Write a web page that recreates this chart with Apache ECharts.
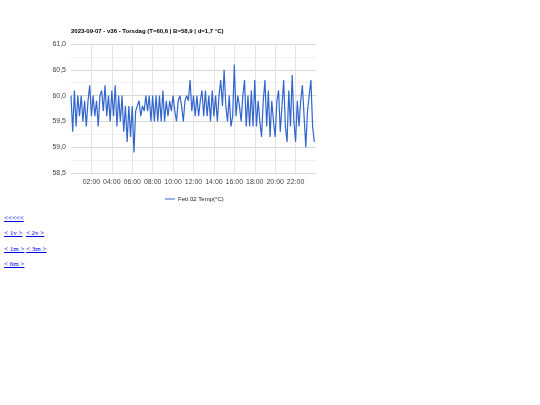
<!DOCTYPE html>
<html>
<head>
<meta charset="utf-8">
<script src="https://cdn.jsdelivr.net/npm/echarts@6/dist/echarts.min.js"></script>
<style>
html,body{margin:0;padding:0;background:#fff;}
#chart{position:absolute;left:0;top:0;width:540px;height:210px;}
#links{position:absolute;left:4px;top:211px;font-family:"Liberation Serif","Times New Roman",serif;font-size:7px;line-height:15.4px;}
#links a{color:#0000ee;text-decoration:underline;}
</style>
</head>
<body>
<div id="chart"></div>
<div id="links">
<div><a href="#">&lt;&lt;&lt;&lt;&lt;</a></div>
<div><a href="#">&lt; 1v &gt;</a> &nbsp;<a href="#">&lt; 2v &gt;</a></div>
<div><a href="#">&lt; 1m &gt;</a> <a href="#">&lt; 3m &gt;</a></div>
<div><a href="#">&lt; 6m &gt;</a></div>
</div>
<script>
const titleText = "2023-09-07 - v36 - Torsdag (T=60,6 | B=58,9 | d=1,7 °C)";
const seriesName = "Fett 02 Temp(°C)";
const yTicks = [58.5, 59.0, 59.5, 60.0, 60.5, 61.0];
const xTickHours = [2, 4, 6, 8, 10, 12, 14, 16, 18, 20, 22];
// temperatures, one reading every 10 minutes from 00:00
const tempsMorning = [
60.0,59.3,60.1,59.4,60.0,59.6,60.0,59.5,59.9,59.4,
59.9,60.2,59.6,60.0,59.6,59.9,59.4,60.0,60.1,59.7,
60.2,59.6,60.0,59.5,60.1,59.6,60.2,59.4,60.0,59.5,
60.0,59.3,59.8,59.1,59.8,59.2,59.8,58.9,59.7,59.8,
59.9,59.6,59.8,59.7,60.0,59.7,60.0,59.5,60.0,59.5,
60.0,59.5,60.0,59.5,60.1,59.5,59.9,59.6,59.9,59.7,
60.0,59.7,59.5,59.9,60.0,59.8,59.5,59.9,60.0
];
const tempsAfternoon = [
59.9,60.3,59.7,60.0,59.6,60.0,59.6,59.9,60.1,59.6,
60.1,59.6,60.0,59.5,60.1,59.6,60.0,59.5,60.0,60.3,
59.8,60.5,59.8,59.5,60.0,59.4,59.6,60.6,59.6,60.0,
59.8,59.5,60.0,60.3,59.4,60.0,59.4,60.1,59.4,
60.3,59.4,59.9,59.5,59.2,59.9,60.3,59.4,60.1,59.2,
59.9,59.5,59.2,59.9,60.1,59.3,59.8,60.3,59.4,59.1,
60.1,59.4,60.4,59.5,59.1,59.9,59.4,59.9,60.2,59.6,
59.0,59.7,60.0,60.3,59.4,59.1
];
const temps = tempsMorning.concat(tempsAfternoon);
const stepMinutes = 10;
const hours = temps.map((_, i) => i * stepMinutes / 60);

const chart = echarts.init(document.getElementById('chart'), null, {renderer: 'canvas'});
const font = 'Arial, "Liberation Sans", sans-serif';
chart.setOption({
  animation: false,
  title: {
    text: titleText, left: 71, top: 28, padding: 0,
    textStyle: {fontFamily: font, fontSize: 6, fontWeight: 'bold', color: '#000'}
  },
  grid: {left: 71, top: 44, width: 245, height: 129, containLabel: false},
  legend: {
    data: [seriesName], left: 165, top: 196, padding: 0,
    itemWidth: 10, itemHeight: 1, itemGap: 4,
    icon: 'rect',
    textStyle: {fontFamily: font, fontSize: 6, color: '#222', padding: [0,0,0,-2]}
  },
  xAxis: {
    type: 'value', min: 0, max: 24, interval: 2,
    axisLine: {show: false}, axisTick: {show: false},
    axisLabel: {
      fontFamily: font, fontSize: 7, color: '#444', margin: 6,
      formatter: v => xTickHours.indexOf(v) >= 0 ? (v < 10 ? '0' + v : '' + v) + ':00' : ''
    },
    splitLine: {show: true, showMinLine: false, showMaxLine: false, lineStyle: {color: '#e4e4e4', width: 1}}
  },
  yAxis: {
    type: 'value', min: yTicks[0], max: yTicks[yTicks.length - 1], interval: 0.5,
    axisLine: {show: false}, axisTick: {show: false},
    axisLabel: {
      fontFamily: font, fontSize: 7, color: '#444', margin: 5,
      formatter: v => v.toFixed(1).replace('.', ',')
    },
    splitLine: {show: true, lineStyle: {color: '#d8d8d8', width: 1}},
    minorTick: {show: false, splitNumber: 2},
    minorSplitLine: {show: true, lineStyle: {color: '#f0f0f0', width: 1}}
  },
  series: [{
    name: seriesName, type: 'line', showSymbol: false, symbol: 'none',
    data: hours.map((h, i) => [h, temps[i]]),
    lineStyle: {color: '#3366cc', width: 1.2},
    itemStyle: {color: '#3366cc'}
  }]
});
</script>
</body>
</html>
